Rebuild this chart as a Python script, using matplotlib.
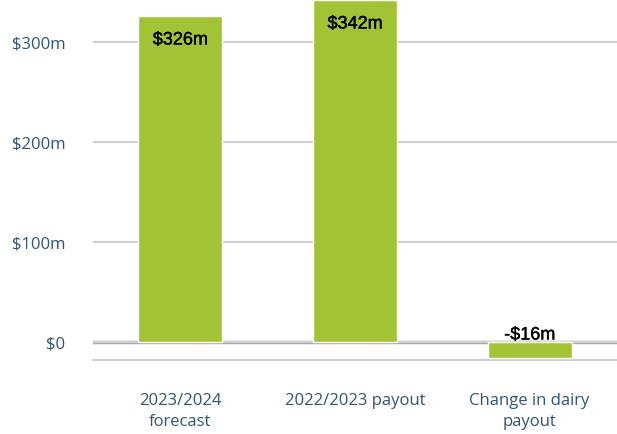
import matplotlib.pyplot as plt
import matplotlib.patheffects as pe

categories = ["2023/2024\nforecast", "2022/2023 payout", "Change in dairy\npayout"]
values = [326, 342, -16]
bar_labels = ["$326m", "$342m", "-$16m"]
yticks = [0, 100, 200, 300]
ytick_labels = ["$0", "$100m", "$200m", "$300m"]

bar_color = "#A3C336"
text_color = "#2F5573"

plt.rcParams["font.family"] = ["Open Sans", "DejaVu Sans"]

fig = plt.figure(figsize=(6.17, 4.35), dpi=100)
ax = fig.add_axes([93 / 617, 74 / 435, 1 - 93 / 617, 361 / 435])

x = range(len(values))
ax.bar(x, values, width=0.48, color=bar_color, edgecolor="white", linewidth=1, zorder=3)

ax.set_xlim(-0.5, 2.5)
ax.set_ylim(-18, 343)

# value labels: inside the top of positive bars, above the zero line for the negative one
for xi, v, lab in zip(x, values, bar_labels):
    ypos = v - 24 if v > 0 else 7
    ax.text(xi, ypos, lab, ha="center", va="center", fontsize=13,
            family="Liberation Sans", color="black", zorder=4,
            path_effects=[pe.withStroke(linewidth=0.25, foreground="black")])

ax.set_yticks(yticks)
ax.set_yticklabels(ytick_labels, color=text_color, fontsize=12)
ax.set_xticks(list(x))
ax.set_xticklabels(categories, color=text_color, fontsize=12, linespacing=1.45)
ax.tick_params(axis="both", length=0)
ax.tick_params(axis="y", pad=20)
ax.tick_params(axis="x", pad=23)

ax.grid(axis="y", color="#CBD0D8", linewidth=1.5, zorder=0)
ax.axhline(0, color="#A8A8A8", linewidth=2.5, zorder=1)

for side in ["top", "right", "left"]:
    ax.spines[side].set_visible(False)
ax.spines["bottom"].set_color("#CBD0D8")
ax.spines["bottom"].set_linewidth(1.5)

fig.savefig("out.png", dpi=100)
